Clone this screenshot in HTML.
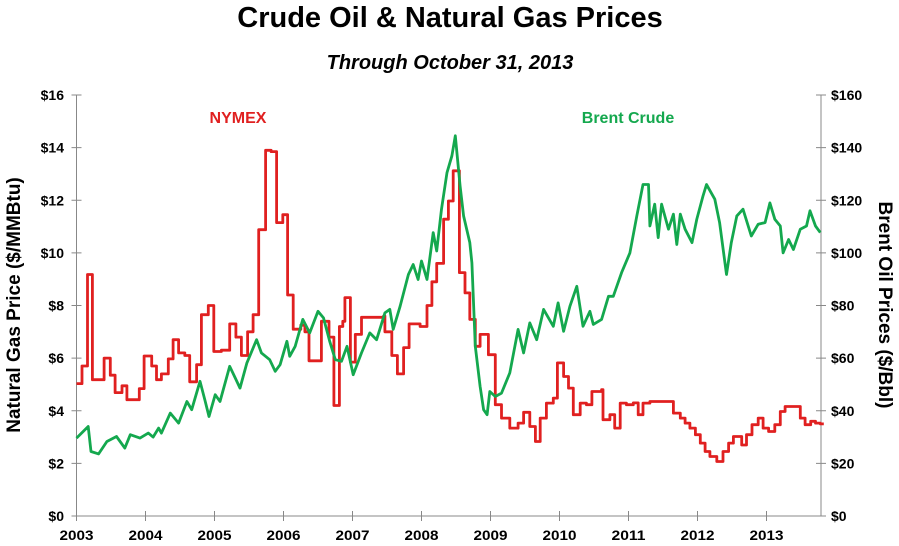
<!DOCTYPE html>
<html><head><meta charset="utf-8"><style>
html,body{margin:0;padding:0;background:#fff;width:899px;height:546px;overflow:hidden}
svg{display:block;font-family:"Liberation Sans",Arial,sans-serif}
</style></head><body>
<svg id="chart" width="899" height="546" viewBox="0 0 899 546" xmlns="http://www.w3.org/2000/svg">
<text x="450" y="27" text-anchor="middle" font-size="29" font-weight="bold">Crude Oil &amp; Natural Gas Prices</text>
<text x="450" y="69" text-anchor="middle" font-size="20" font-weight="bold" font-style="italic">Through October 31, 2013</text>
<text transform="translate(20,305) rotate(-90)" text-anchor="middle" font-size="19" font-weight="bold">Natural Gas Price ($/MMBtu)</text>
<text transform="translate(879,305) rotate(90)" text-anchor="middle" font-size="19" font-weight="bold">Brent Oil Prices ($/Bbl)</text>
<text x="238" y="123" text-anchor="middle" font-size="16" font-weight="bold" fill="#e02020">NYMEX</text>
<text x="628" y="123" text-anchor="middle" font-size="16" font-weight="bold" fill="#14a84e">Brent Crude</text>
<g id="axes"></g>
<g id="series"></g>
</svg>
<script>
const gasYears=[2003.00,2003.08,2003.16,2003.23,2003.40,2003.49,2003.56,2003.66,2003.73,2003.91,2003.98,2004.09,2004.16,2004.23,2004.33,2004.40,2004.48,2004.57,2004.64,2004.74,2004.81,2004.91,2004.99,2005.10,2005.22,2005.31,2005.39,2005.48,2005.56,2005.64,2005.74,2005.82,2005.90,2005.99,2006.06,2006.14,2006.25,2006.31,2006.37,2006.55,2006.66,2006.73,2006.81,2006.86,2006.89,2006.97,2007.04,2007.13,2007.45,2007.47,2007.57,2007.65,2007.74,2007.82,2007.98,2008.08,2008.15,2008.22,2008.32,2008.39,2008.46,2008.55,2008.63,2008.70,2008.78,2008.85,2008.97,2009.07,2009.16,2009.28,2009.40,2009.48,2009.57,2009.65,2009.72,2009.81,2009.91,2009.97,2010.06,2010.13,2010.20,2010.30,2010.39,2010.47,2010.61,2010.63,2010.73,2010.80,2010.88,2010.97,2011.07,2011.14,2011.21,2011.31,2011.65,2011.75,2011.82,2011.89,2011.97,2012.04,2012.11,2012.18,2012.28,2012.37,2012.45,2012.52,2012.64,2012.71,2012.79,2012.88,2012.95,2013.03,2013.12,2013.20,2013.27,2013.49,2013.56,2013.64,2013.71,2013.78,2013.83];
const gasValues=[5.03,5.7,9.18,5.18,6.0,5.35,4.69,4.95,4.42,4.84,6.08,5.7,5.18,5.4,5.97,6.7,6.2,6.1,5.1,5.75,7.65,8.0,6.25,6.3,7.3,6.8,6.1,7.0,7.65,10.88,13.9,13.85,11.15,11.45,8.4,7.1,7.25,7.0,5.9,7.4,6.8,4.2,7.2,7.4,8.3,5.85,6.9,7.55,7.6,7.0,6.1,5.4,6.4,7.3,7.2,8.0,8.9,9.6,11.28,11.97,13.12,9.25,8.48,7.47,6.45,6.9,6.13,4.23,3.72,3.34,3.53,3.94,3.4,2.83,3.72,4.29,4.48,5.82,5.3,4.86,3.85,4.29,4.23,4.73,4.8,3.66,3.85,3.34,4.29,4.23,4.3,3.85,4.29,4.35,3.91,3.72,3.53,3.34,3.09,2.77,2.45,2.26,2.07,2.45,2.77,3.02,2.7,3.09,3.47,3.72,3.34,3.21,3.47,3.97,4.16,3.72,3.47,3.6,3.53,3.5,3.5];
const brentYears=[2003.00,2003.17,2003.21,2003.32,2003.44,2003.58,2003.70,2003.78,2003.92,2004.04,2004.11,2004.19,2004.23,2004.36,2004.48,2004.60,2004.67,2004.79,2004.86,2004.92,2005.01,2005.08,2005.22,2005.30,2005.37,2005.47,2005.61,2005.68,2005.80,2005.88,2005.95,2006.05,2006.09,2006.17,2006.28,2006.38,2006.50,2006.58,2006.67,2006.75,2006.84,2006.92,2007.01,2007.13,2007.25,2007.35,2007.47,2007.54,2007.59,2007.69,2007.81,2007.88,2007.95,2008.00,2008.08,2008.17,2008.22,2008.29,2008.37,2008.44,2008.49,2008.56,2008.61,2008.70,2008.73,2008.78,2008.85,2008.90,2008.95,2008.99,2009.07,2009.16,2009.28,2009.40,2009.48,2009.57,2009.67,2009.77,2009.84,2009.91,2009.98,2010.06,2010.15,2010.25,2010.34,2010.44,2010.49,2010.61,2010.71,2010.78,2010.90,2011.02,2011.12,2011.21,2011.29,2011.31,2011.38,2011.43,2011.48,2011.58,2011.65,2011.70,2011.75,2011.82,2011.92,2011.99,2012.08,2012.13,2012.25,2012.32,2012.42,2012.49,2012.57,2012.66,2012.78,2012.88,2012.98,2013.05,2013.12,2013.20,2013.24,2013.32,2013.39,2013.49,2013.58,2013.63,2013.71,2013.78];
const brentValues=[29.6,34,24.5,23.6,28.3,30.2,25.8,30.9,29.6,31.5,30,33.4,31.5,39.1,35.3,43.5,40.4,51.2,44.2,37.8,46.1,43.5,56.9,52.5,48.6,58.2,67,62,59.4,55,57.5,66.4,60.7,64.5,74.7,69.6,77.8,75.3,66.4,59.4,58.8,64.5,53.7,62,69.6,67,77.2,78.5,70.9,79.7,91.8,95.6,89.9,96.9,89.9,107.7,100.7,116.6,130.5,136.9,144.5,125.4,114,103.9,96.2,64.5,49.3,40.4,38.5,47.3,45.4,46.7,54.4,70.9,62,73.4,67,78.5,75.3,72.1,81,70.2,79.7,87.3,72.1,77.8,72.8,74.7,83.5,83.5,92.5,100,114,126,126,110.2,118.5,105.8,118.5,109,114.7,103.2,114.7,109,103.9,112.8,121.6,126,120.4,111.5,91.8,103.9,114,116.6,106.4,110.9,111.5,119,112.8,110.2,100,105.1,101.3,109,110.2,116,110.2,107.7];
const xTickYears=[2003,2004,2005,2006,2007,2008,2009,2010,2011,2012,2013];
const leftTicks=[0,2,4,6,8,10,12,14,16];
const rightTicks=[0,20,40,60,80,100,120,140,160];

const NS='http://www.w3.org/2000/svg';
const X0=76.5, PXY=69, YB=516, YT=95, XR=821;
function xs(yr){return X0+(yr-2003)*PXY;}
function yl(v){return YB-(v/16)*(YB-YT);}
function yr(v){return YB-(v/160)*(YB-YT);}
function mk(tag,attrs,parent){const e=document.createElementNS(NS,tag);for(const k in attrs)e.setAttribute(k,attrs[k]);parent.appendChild(e);return e;}
const axes=document.getElementById('axes'), series=document.getElementById('series');

const la=mk('line',{x1:X0,y1:YT,x2:X0,y2:YB,stroke:'#888','stroke-width':1},axes);


const ra=mk('line',{x1:XR,y1:YT,x2:XR,y2:YB,stroke:'#888','stroke-width':1},axes);


const xa=mk('line',{x1:X0-5,y1:YB,x2:XR+5,y2:YB,stroke:'#888','stroke-width':1},axes);



leftTicks.forEach(v=>{
  const y=yl(v);
  mk('line',{x1:X0-5,y1:y,x2:X0+5,y2:y,stroke:'#888'},axes);
  const t=mk('text',{x:64,y:y+5,'text-anchor':'end','font-size':14,'font-weight':'bold'},axes);
  t.textContent='$'+v;
  
  
});
rightTicks.forEach(v=>{
  const y=yr(v);
  mk('line',{x1:XR-5,y1:y,x2:XR+5,y2:y,stroke:'#888'},axes);
  const t=mk('text',{x:831,y:y+5,'text-anchor':'start','font-size':14,'font-weight':'bold'},axes);
  t.textContent='$'+v;
  
  
});
xTickYears.forEach(v=>{
  const x=xs(v);
  mk('line',{x1:x,y1:YB-5,x2:x,y2:YB+5,stroke:'#888'},axes);
  const t=mk('text',{x:x,y:540,'text-anchor':'middle','font-size':14,'font-weight':'bold','textLength':34,'lengthAdjust':'spacingAndGlyphs'},axes);
  t.textContent=String(v);
  
  
});

// gas as step line
let gp='';
gasYears.forEach((yv,i)=>{
  const x=xs(yv).toFixed(1), y=yl(gasValues[i]).toFixed(1);
  if(i===0) gp+='M'+x+','+y; else gp+=' H'+x+' V'+y;
});
const gl=mk('path',{d:gp,fill:'none',stroke:'#e02020','stroke-width':2.8,'stroke-linejoin':'round'},series);



const bp=brentYears.map((yv,i)=>xs(yv).toFixed(1)+','+yr(brentValues[i]).toFixed(1)).join(' ');
const bl=mk('polyline',{points:bp,fill:'none',stroke:'#14a84e','stroke-width':2.8,'stroke-linejoin':'round'},series);


</script>
</body></html>
